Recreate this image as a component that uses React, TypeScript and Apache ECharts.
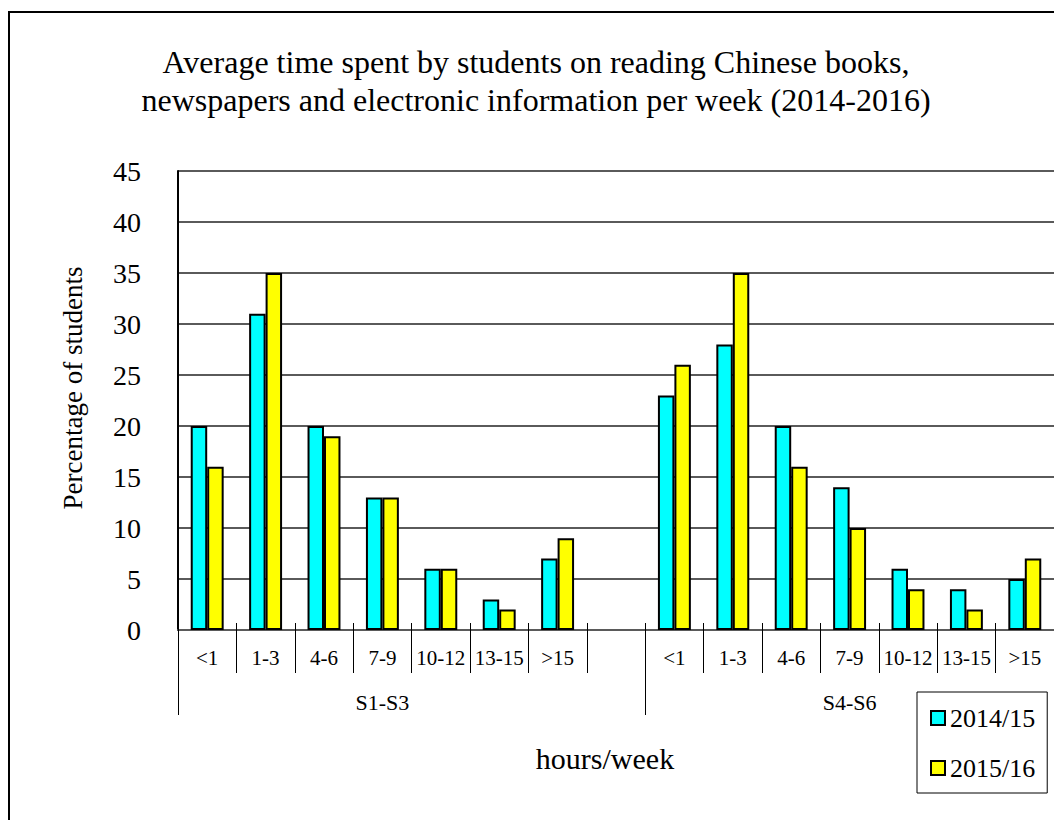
import React, { useEffect, useRef } from "react";
import * as echarts from "echarts";

const categories = ["<1", "1-3", "4-6", "7-9", "10-12", "13-15", ">15", "", "<1", "1-3", "4-6", "7-9", "10-12", "13-15", ">15"];
const groupNames = ["S1-S3", "S4-S6"];
const groupLabelIndex = [3, 11];
const groupStartIndex = [0, 8];
const seriesNames = ["2014/15", "2015/16"];
const values2014 = [20, 31, 20, 13, 6, 3, 7, null, 23, 28, 20, 14, 6, 4, 5];
const values2015 = [16, 35, 19, 13, 6, 2, 9, null, 26, 35, 16, 10, 4, 2, 7];
const yTicks = { min: 0, max: 45, interval: 5 };

const FONT = "'Liberation Serif', 'Times New Roman', serif";

export default function App() {
  const ref = useRef<HTMLDivElement>(null);
  useEffect(() => {
    if (!ref.current) return;
    const chart = echarts.init(ref.current, null, { renderer: "svg" });
    const groupAxisData = categories.map((_, i) => {
      const k = groupLabelIndex.indexOf(i);
      return k >= 0 ? groupNames[k] : "";
    });
    chart.setOption({
      animation: false,
      backgroundColor: "#ffffff",
      title: {
        text: "Average time spent by students on reading Chinese books,\nnewspapers and electronic information per week (2014-2016)",
        left: 536,
        top: 43,
        padding: 0,
        textAlign: "center",
        textStyle: { fontFamily: FONT, fontSize: 32, fontWeight: "normal", color: "#000", lineHeight: 38 },
      },
      grid: { left: 178, top: 171, width: 877.5, height: 459, containLabel: false },
      legend: {
        orient: "vertical",
        left: 917,
        top: 692,
        padding: [13, 12, 12, 13],
        itemGap: 24,
        itemWidth: 14,
        itemHeight: 14,
        icon: "rect",
        borderColor: "#000",
        borderWidth: 1,
        textStyle: { fontFamily: FONT, fontSize: 26, color: "#000", lineHeight: 26 },
        data: seriesNames,
      },
      xAxis: [
        {
          type: "category",
          data: categories,
          position: "bottom",
          axisLine: { show: true, lineStyle: { color: "#5a5a5a", width: 2 } },
          axisTick: { show: true, length: 43, alignWithLabel: false, lineStyle: { color: "#000", width: 1 } },
          axisLabel: { interval: 0, margin: 17, fontFamily: FONT, fontSize: 21, color: "#000" },
          splitLine: { show: false },
        },
        {
          type: "category",
          data: groupAxisData,
          position: "bottom",
          axisLine: { show: false },
          axisTick: {
            show: true,
            length: 85,
            alignWithLabel: false,
            interval: (i: number) => groupStartIndex.indexOf(i) >= 0,
            lineStyle: { color: "#000", width: 1 },
          },
          axisLabel: { interval: 0, margin: 61, fontFamily: FONT, fontSize: 22, color: "#000" },
          splitLine: { show: false },
        },
        {
          type: "category",
          data: categories,
          position: "bottom",
          axisLine: { show: false },
          axisTick: { show: true, inside: true, length: 7, alignWithLabel: false, lineStyle: { color: "#000", width: 1 } },
          axisLabel: { show: false },
          splitLine: { show: false },
        },
      ],
      yAxis: {
        type: "value",
        min: yTicks.min,
        max: yTicks.max,
        interval: yTicks.interval,
        axisLine: { show: true, lineStyle: { color: "#000", width: 2 } },
        axisTick: { show: false },
        axisLabel: { margin: 37, fontFamily: FONT, fontSize: 28, color: "#000" },
        splitLine: { show: true, lineStyle: { color: "#5a5a5a", width: 2 } },
      },
      series: [
        {
          name: seriesNames[0],
          type: "bar",
          data: values2014,
          barGap: "0%",
          barCategoryGap: "43.6%",
          itemStyle: { color: "#00FFFF", borderColor: "#000", borderWidth: 2 },
        },
        {
          name: seriesNames[1],
          type: "bar",
          data: values2015,
          barGap: "0%",
          barCategoryGap: "43.6%",
          itemStyle: { color: "#FFFF00", borderColor: "#000", borderWidth: 2 },
        },
      ],
      graphic: [
        {
          type: "rect",
          shape: { x: 9, y: 12, width: 2000, height: 2000 },
          style: { fill: "none", stroke: "#000", lineWidth: 2 },
          silent: true,
        },
        {
          type: "text",
          x: 73,
          y: 388,
          rotation: Math.PI / 2,
          style: {
            text: "Percentage of students",
            fontFamily: FONT,
            fontSize: 27,
            fill: "#000",
            align: "center",
            verticalAlign: "middle",
          },
        },
        {
          type: "text",
          x: 605,
          y: 758,
          style: {
            text: "hours/week",
            fontFamily: FONT,
            fontSize: 30,
            fill: "#000",
            align: "center",
            verticalAlign: "middle",
          },
        },
      ],
    });
    return () => chart.dispose();
  }, []);
  return (
    <div style={{ position: "fixed", left: 0, top: 0, width: 1054, height: 820, background: "#fff" }}>
      <div ref={ref} style={{ width: 1054, height: 820 }} />
    </div>
  );
}
